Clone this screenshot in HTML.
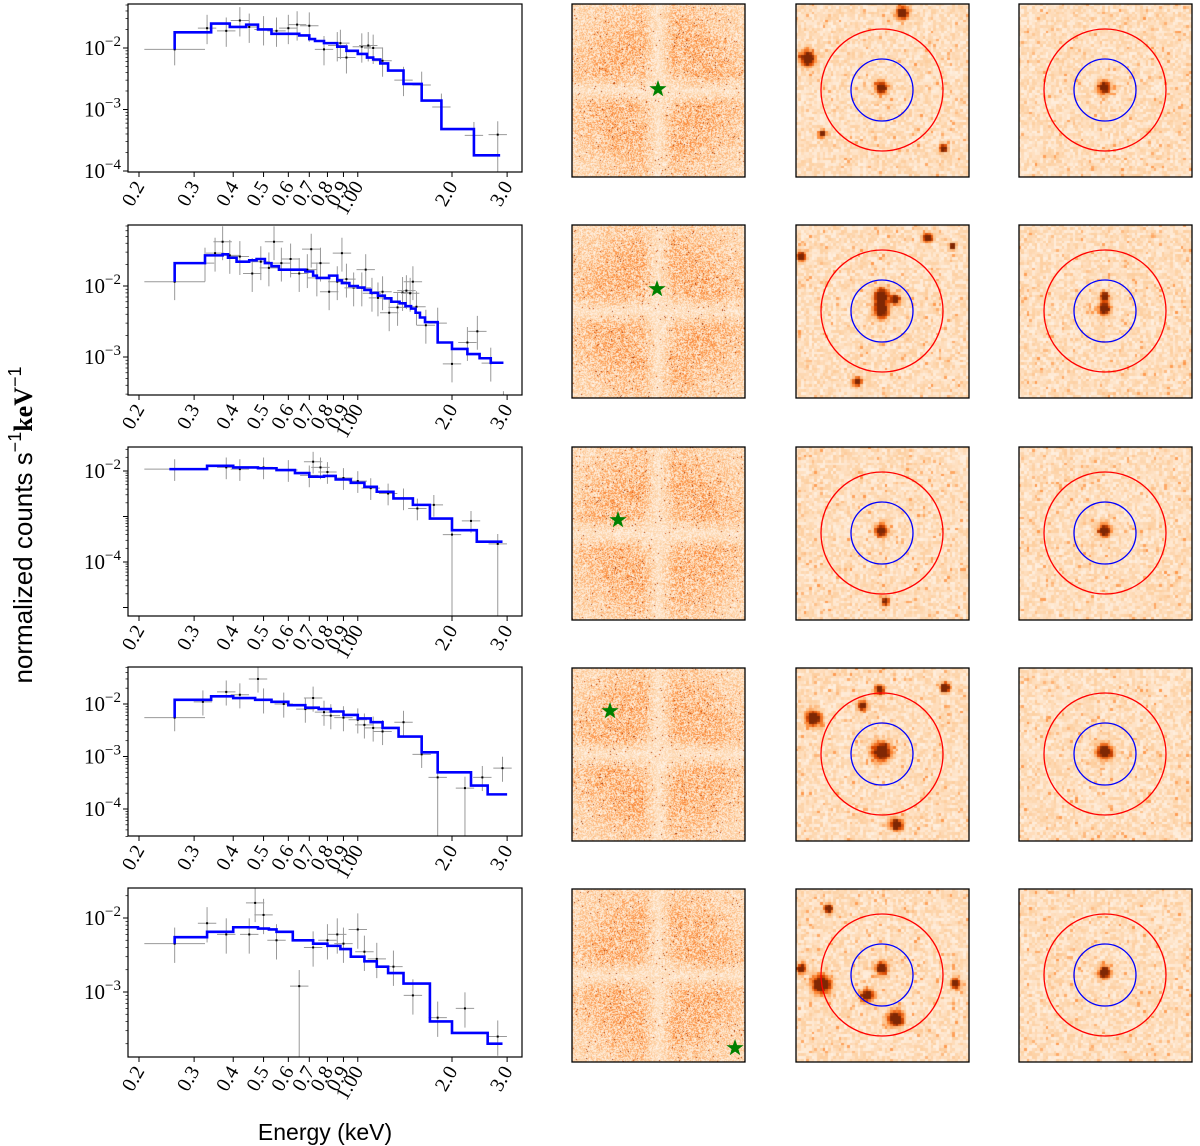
<!DOCTYPE html>
<html><head><meta charset="utf-8">
<style>
body{margin:0;background:#fff;width:1200px;height:1146px;position:relative;overflow:hidden;font-family:"Liberation Sans",sans-serif}
canvas{position:absolute}
svg{position:absolute;left:0;top:0}
</style></head>
<body>
<div id="imgs"></div>
<svg id="fig" width="1200" height="1146"></svg>
<script>
// ---- chart data ----
const xTickLabels = ["0.2","0.3","0.4","0.5","0.6","0.7","0.8","0.9","1.00","2.0","3.0"];
const xTickValues = [0.2,0.3,0.4,0.5,0.6,0.7,0.8,0.9,1.0,2.0,3.0];

const model1Edges = [0.26,0.34,0.39,0.44,0.48,0.53,0.65,0.70,0.73,0.78,0.86,0.92,1.0,1.07,1.12,1.18,1.25,1.4,1.6,1.85,2.35,2.85];
const model1Values = [0.018,0.025,0.022,0.024,0.020,0.017,0.016,0.014,0.013,0.012,0.0105,0.009,0.008,0.007,0.0065,0.0056,0.0043,0.0026,0.0014,0.00048,0.00018];
const data1E = [0.26,0.33,0.38,0.42,0.45,0.5,0.55,0.6,0.64,0.7,0.78,0.86,0.88,0.92,1.03,1.08,1.12,1.2,1.4,1.6,1.85,2.35,2.8];
const data1V = [0.0095,0.021,0.019,0.028,0.022,0.02,0.019,0.021,0.024,0.023,0.0095,0.011,0.012,0.007,0.0105,0.011,0.01,0.0062,0.003,0.0025,0.0011,0.00038,0.00039];

const model2Edges = [0.26,0.325,0.37,0.385,0.41,0.45,0.475,0.505,0.53,0.56,0.68,0.72,0.74,0.78,0.81,0.86,0.89,0.94,1.0,1.05,1.10,1.16,1.22,1.28,1.36,1.42,1.48,1.53,1.58,1.64,1.8,2.0,2.24,2.45,2.66,2.92];
const model2Values = [0.021,0.027,0.028,0.025,0.022,0.023,0.024,0.021,0.019,0.017,0.016,0.014,0.013,0.013,0.014,0.012,0.011,0.010,0.0095,0.0088,0.008,0.0073,0.0067,0.006,0.0057,0.0052,0.0048,0.0042,0.0036,0.0031,0.0016,0.0013,0.0011,0.00096,0.00083];
const data2E = [0.26,0.325,0.35,0.37,0.39,0.42,0.46,0.49,0.52,0.54,0.57,0.61,0.65,0.69,0.71,0.74,0.76,0.81,0.86,0.89,0.92,0.97,1.03,1.06,1.11,1.16,1.2,1.26,1.34,1.39,1.43,1.47,1.5,1.54,1.65,1.8,2.0,2.24,2.41,2.66,2.92];
const data2V = [0.0115,0.021,0.029,0.042,0.027,0.026,0.015,0.022,0.018,0.042,0.021,0.024,0.015,0.017,0.033,0.013,0.021,0.0083,0.0115,0.029,0.0125,0.0094,0.0094,0.017,0.0079,0.0068,0.0083,0.0042,0.005,0.0081,0.0086,0.0079,0.0115,0.0051,0.0028,0.003,0.0008,0.0016,0.0023,0.00082,0.0002];

const model3Edges = [0.25,0.33,0.40,0.48,0.55,0.63,0.70,0.78,0.85,0.95,1.05,1.15,1.3,1.5,1.7,2.0,2.4,2.9];
const model3Values = [0.011,0.013,0.012,0.0115,0.0105,0.009,0.0075,0.0078,0.0065,0.0055,0.0045,0.0035,0.0025,0.0018,0.0009,0.0005,0.00028];
const data3E = [0.26,0.38,0.42,0.5,0.6,0.7,0.72,0.76,0.8,0.9,1.0,1.1,1.25,1.4,1.55,1.75,2.0,2.3,2.8];
const data3V = [0.011,0.012,0.011,0.012,0.0105,0.008,0.016,0.012,0.0095,0.007,0.006,0.0042,0.0032,0.0025,0.0015,0.0018,0.0004,0.0008,0.00025];

const model4Edges = [0.26,0.34,0.40,0.47,0.53,0.6,0.68,0.75,0.82,0.9,1.0,1.1,1.2,1.35,1.6,1.8,2.3,2.6,3.0];
const model4Values = [0.012,0.014,0.013,0.012,0.011,0.0095,0.0085,0.008,0.0072,0.0062,0.0053,0.0045,0.0035,0.0024,0.0012,0.0005,0.00028,0.00019];
const data4E = [0.26,0.32,0.38,0.42,0.48,0.5,0.58,0.68,0.72,0.78,0.82,0.9,1.0,1.05,1.12,1.2,1.4,1.6,1.8,2.2,2.5,2.9];
const data4V = [0.0055,0.011,0.017,0.015,0.03,0.012,0.01,0.008,0.013,0.007,0.006,0.0055,0.005,0.004,0.0035,0.003,0.0045,0.0011,0.0004,0.00025,0.0004,0.0006];

const model5Edges = [0.26,0.33,0.40,0.48,0.52,0.55,0.62,0.72,0.8,0.88,0.95,1.05,1.15,1.25,1.4,1.7,2.0,2.6,2.9];
const model5Values = [0.0055,0.0065,0.0075,0.0072,0.007,0.0065,0.005,0.0045,0.0042,0.0038,0.003,0.0026,0.0022,0.0018,0.0013,0.0004,0.00028,0.0002];
const data5E = [0.26,0.33,0.38,0.45,0.47,0.5,0.55,0.65,0.72,0.8,0.86,0.9,1.0,1.05,1.15,1.3,1.5,1.8,2.2,2.8];
const data5V = [0.0045,0.0085,0.006,0.006,0.016,0.011,0.005,0.0012,0.004,0.005,0.006,0.0045,0.007,0.0035,0.0028,0.0022,0.0009,0.00045,0.0006,0.00025];

const panels = [
 {top:4,bot:172,y2:48,ppd:61.5,labels:[-2,-3,-4],edges:model1Edges,vals:model1Values,dE:data1E,dV:data1V,deep:[22]},
 {top:225,bot:395,y2:286,ppd:71,labels:[-2,-3],edges:model2Edges,vals:model2Values,dE:data2E,dV:data2V,deep:[40]},
 {top:447,bot:616,y2:471,ppd:45.5,labels:[-2,-4],edges:model3Edges,vals:model3Values,dE:data3E,dV:data3V,deep:[16,18]},
 {top:667,bot:836,y2:704,ppd:52.5,labels:[-2,-3,-4],edges:model4Edges,vals:model4Values,dE:data4E,dV:data4V,deep:[18,19]},
 {top:888,bot:1057,y2:918,ppd:74,labels:[-2,-3],edges:model5Edges,vals:model5Values,dE:data5E,dV:data5V,deep:[7]}
];

const NS="http://www.w3.org/2000/svg";
const svg=document.getElementById('fig');
const L=128,R=522,PPX=313,E0=0.2,X0=139;
function xs(E){return X0+(Math.log10(E)-Math.log10(E0))*PPX;}
function mk(tag,attrs,parent){const e=document.createElementNS(NS,tag);for(const k in attrs)e.setAttribute(k,attrs[k]);(parent||svg).appendChild(e);return e;}

panels.forEach((p,pi)=>{
  const g=mk('g',{});
  
  
  const ys=v=>p.y2-(Math.log10(v)+2)*p.ppd;
  const clip='clip'+pi;
  const cp=mk('clipPath',{id:clip},g);mk('rect',{x:L,y:p.top,width:R-L,height:p.bot-p.top},cp);
  const plot=mk('g',{'clip-path':'url(#'+clip+')'},g);
  p.dE.forEach((E,i)=>{
    const v=p.dV[i];
    const f=i===0?1.25:1.07;
    const x=xs(E), y=ys(v);
    const lo=p.deep.includes(i)?p.bot+5:ys(v*0.55), hi=ys(v*1.65);
    const pt=mk('g',{},plot);
    
    
    mk('line',{x1:xs(E/f),x2:xs(E*f),y1:y,y2:y,stroke:'#999','stroke-width':1},pt);
    mk('line',{x1:x,x2:x,y1:lo,y2:hi,stroke:'#999','stroke-width':1},pt);
    mk('rect',{x:x-1,y:y-1,width:2,height:2,fill:'#000'},pt);
  });
  let d='';
  p.vals.forEach((v,i)=>{const x1=xs(p.edges[i]),x2=xs(p.edges[i+1]),y=ys(v);
    d+=(i===0?('M'+x1+' '+ys(p.dV[0])+' L'+x1+' '+y):(' L'+x1+' '+y))+' L'+x2+' '+y;});
  const m=mk('path',{d:d,fill:'none',stroke:'#0000ff','stroke-width':2.6},plot);
  
  
  mk('rect',{x:L,y:p.top,width:R-L,height:p.bot-p.top,fill:'none',stroke:'#000','stroke-width':1.2},g);
  for(let e=-5;e<=-1;e++){for(let k=1;k<10;k++){const v=k*Math.pow(10,e);const y=ys(v);
    if(y<p.top-0.5||y>p.bot+0.5)continue;
    mk('line',{x1:L,x2:L-(k===1?5:2.5),y1:y,y2:y,stroke:'#000','stroke-width':k===1?1:0.7},g);}}
  p.labels.forEach(e=>{const y=ys(Math.pow(10,e));
    const t=mk('text',{x:L-7,y:y+7,'text-anchor':'end','font-family':'"Liberation Serif",serif','font-size':21},g);
    
    
    t.textContent='10';const s=mk('tspan',{dy:-9,'font-size':15},t);s.textContent='\u2212'+(-e);});
  xTickValues.forEach((E,i)=>{const x=xs(E);
    mk('line',{x1:x,x2:x,y1:p.bot,y2:p.bot+5,stroke:'#000','stroke-width':1},g);
    const t=mk('text',{x:x+6,y:p.bot+14,'text-anchor':'end','font-family':'"Liberation Serif",serif','font-size':20,transform:'rotate(-60 '+(x+6)+' '+(p.bot+14)+')'},g);
    
    
    t.textContent=xTickLabels[i];});
});
const yl=mk('text',{x:32,y:525,'text-anchor':'middle','font-size':26,transform:'rotate(-90 32 525)'});


yl.innerHTML='normalized counts s<tspan dy="-11" font-size="18">\u22121</tspan><tspan dy="11" font-family="Liberation Serif" font-weight="bold">keV</tspan><tspan dy="-11" font-size="18">\u22121</tspan>';
const xl=mk('text',{x:325,y:1140,'text-anchor':'middle','font-size':23});


xl.textContent='Energy (keV)';

// ---- images ----
const colX=[572,796,1019];
const rowY=[4,225,447,668,889];
const S=173;
const stars=[[86,85],[85,64],[46,73],[38,43],[163,159]];
const srcCol3=[
 [[107,9,4],[12,55,5],[27,130,2.5],[148,145,2.5],[86,84,4]],
 [[6,32,3],[132,13,3],[157,22,2],[62,157,3],[86,72,5],[86,86,5],[100,75,3]],
 [[90,155,2.5],[86,84,4]],
 [[18,51,5],[67,38,3],[150,20,3],[84,22,3],[101,157,4],[86,84,6]],
 [[26,96,6],[72,107,4],[100,130,5],[6,80,3],[160,95,3],[33,20,3],[86,80,4]]
];
const srcCol4=[[[86,84,4]],[[86,84,4],[86,72,3]],[[86,84,4]],[[86,84,5]],[[86,84,4]]];
let seed=12345;function rnd(){seed|=0;seed=seed+0x6D2B79F5|0;let t=Math.imul(seed^seed>>>15,1|seed);t=t+Math.imul(t^t>>>7,61|t)^t;return((t^t>>>14)>>>0)/4294967296;}
const stops=[[0,[255,245,235]],[0.25,[253,208,162]],[0.5,[253,141,60]],[0.75,[217,72,1]],[1,[127,39,4]]];
function cmap(v){v=Math.max(0,Math.min(1,v));for(let i=1;i<stops.length;i++){if(v<=stops[i][0]){const a=stops[i-1],b=stops[i],t=(v-a[0])/(b[0]-a[0]);return 'rgb('+a[1].map((c,j)=>Math.round(c+(b[1][j]-c)*t)).join(',')+')';}}return 'rgb(127,39,4)';}
const holder=document.getElementById('imgs');
function canvasAt(x,y,name){const c=document.createElement('canvas');c.width=S;c.height=S;c.style.left=x+'px';c.style.top=y+'px';
 
 
 holder.appendChild(c);return c.getContext('2d');}
rowY.forEach((y0,r)=>{
  let ctx=canvasAt(colX[0],y0,'field-image-'+(r+1));
  for(let i=0;i<S;i++)for(let j=0;j<S;j++){
    const bx=Math.min(1,Math.abs(i-86)/16),by=Math.min(1,Math.abs(j-86)/16);
    const rr=Math.hypot(i-86,j-86);
    const ring=Math.exp(-Math.pow((rr-50)/45,2));
    const dens=0.13+0.16*bx*by*ring+0.03*bx*by;
    let v=rnd()*dens*1.8; if(rnd()<0.01)v=0.75+rnd()*0.2;
    ctx.fillStyle=cmap(v);ctx.fillRect(i,j,1,1);}
  [srcCol3[r],srcCol4[r]].forEach((srcs,ci)=>{
    ctx=canvasAt(colX[ci+1],y0,(ci===0?'cutout-image-':'cleaned-cutout-')+(r+1));
    const N=64,ps=S/N;
    for(let i=0;i<N;i++)for(let j=0;j<N;j++){
      const px=(i+0.5)*ps,py=(j+0.5)*ps;
      let v=0.04+rnd()*0.22; if(rnd()<0.05)v+=0.2;
      srcs.forEach(s=>{const dd=((px-s[0])**2+(py-s[1])**2)/(s[2]*s[2]);v+=1.4*Math.exp(-dd/2);});
      ctx.fillStyle=cmap(v);ctx.fillRect(Math.floor(i*ps),Math.floor(j*ps),Math.ceil(ps),Math.ceil(ps));}
  });
});
rowY.forEach((y0,r)=>{
  colX.forEach((x0,ci)=>{
    const f=mk('rect',{x:x0,y:y0,width:S,height:S,fill:'none',stroke:'#000','stroke-width':1.3});
    
    
    if(ci>0){
      const rc=mk('circle',{cx:x0+86,cy:y0+86,r:61,fill:'none',stroke:'#ff0000','stroke-width':1.3});
      
      
      const bc=mk('circle',{cx:x0+86,cy:y0+86,r:31,fill:'none',stroke:'#0000ff','stroke-width':1.3});
      
      
    }
  });
  const sx=colX[0]+stars[r][0],sy=y0+stars[r][1];
  let pts='';for(let k=0;k<10;k++){const a=-Math.PI/2+k*Math.PI/5,rr=k%2?3.6:9;pts+=(sx+rr*Math.cos(a)).toFixed(1)+','+(sy+rr*Math.sin(a)).toFixed(1)+' ';}
  const st=mk('polygon',{points:pts,fill:'#008000'});
  
  
});
</script>
</body></html>
